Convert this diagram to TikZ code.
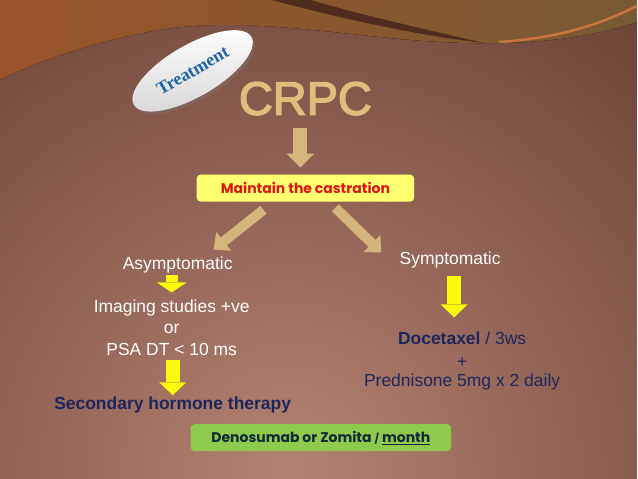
\documentclass[tikz,border=0pt]{standalone}
\usepackage{fontspec}
\setmainfont{Liberation Sans}
\newfontfamily\boxfont{Poppins}
\newfontfamily\tagfont{Liberation Serif}
\newfontfamily\titlefont{Liberation Sans}[FakeBold=3]
\usetikzlibrary{arrows.meta,shapes.geometric,shadows}

\definecolor{bgdark}{RGB}{94,54,42}
\definecolor{bglight}{RGB}{180,130,114}
\definecolor{topor}{RGB}{155,84,42}
\definecolor{topol}{RGB}{120,90,52}
\definecolor{swoosh}{RGB}{80,44,30}
\definecolor{orline}{RGB}{200,118,62}
\definecolor{gold}{RGB}{222,190,124}
\definecolor{tanarr}{RGB}{212,182,124}
\definecolor{yel}{RGB}{250,250,10}
\definecolor{boxyel}{RGB}{255,255,112}
\definecolor{castred}{RGB}{222,22,22}
\definecolor{navy}{RGB}{28,38,92}
\definecolor{boxgreen}{RGB}{142,202,76}
\definecolor{greentxt}{RGB}{16,40,58}
\definecolor{tagblue}{RGB}{30,100,165}

\tikzset{
  plain/.style={anchor=base, text=white, font=\fontsize{17.5}{17.5}\selectfont},
  navytext/.style={anchor=base, text=navy, font=\fontsize{17.5}{17.5}\selectfont},
  tag/.style={ellipse, minimum width=136pt, minimum height=52pt, inner sep=0pt,
    rotate=30, top color=white, middle color=white, bottom color=gray!30,
    drop shadow={opacity=.3}, text=tagblue,
    font=\tagfont\bfseries\fontsize{18}{18}\selectfont},
  yelbox/.style={rounded corners=4pt, fill=boxyel, minimum width=218pt,
    minimum height=27pt, text=castred,
    font=\boxfont\bfseries\fontsize{14}{14}\selectfont},
  grnbox/.style={rounded corners=4pt, fill=boxgreen, minimum width=261pt,
    minimum height=27pt, text=greentxt,
    font=\boxfont\bfseries\fontsize{14}{14}\selectfont},
  tanarrow/.style={draw=tanarr, line width=14pt,
    -{Triangle[width=28pt,length=14pt,line width=0pt]}},
  tanslim/.style={draw=tanarr, line width=10pt,
    -{Triangle[width=24pt,length=13pt,line width=0pt]}},
  yelarrow/.style={draw=yel, line width=14pt,
    -{Triangle[width=27pt,length=13pt,line width=0pt]}},
  yelsmall/.style={draw=yel, line width=12pt,
    -{Triangle[width=30pt,length=10pt,line width=0pt]}}
}

\begin{document}
\begin{tikzpicture}[x=1pt,y=-1pt]
  \fill[bgdark] (0,0) rectangle (638,479);
  \begin{scope}
    \clip (0,0) rectangle (638,479);
    \shade[inner color=bglight, outer color=bgdark] (290,470) circle (700);
  \end{scope}
  \fill[left color=topor, right color=topol] (0,0) -- (638,0) -- (638,22)
    .. controls (560,48) and (470,46) .. (390,38)
    .. controls (310,30) and (230,18) .. (160,30)
    .. controls (100,40) and (40,60) .. (0,80) -- cycle;
  \fill[swoosh] (272,0) .. controls (340,18) and (420,36) .. (485,43)
    .. controls (420,28) and (350,12) .. (312,0) -- cycle;
  \draw[orline, line width=2.5pt] (638,6) .. controls (600,25) and (560,38) .. (500,42);

  \node[tag] (treat) at (193,71) {Treatment};
  \node[anchor=base, text=gold, font=\titlefont\fontsize{47}{47}\selectfont] (crpc) at (306,115) {CRPC};
  \node[yelbox] (maint) at (306,188.5) {Maintain the castration};

  \node[plain] (asym) at (178,270) {Asymptomatic};
  \node[plain] (img1) at (172,313) {Imaging studies +ve};
  \node[plain] (img2) at (172,334) {or};
  \node[plain] (img3) at (172,356) {PSA DT < 10 ms};
  \node[navytext, font=\bfseries\fontsize{17.5}{17.5}\selectfont] (sht) at (173,410) {Secondary hormone therapy};

  \node[plain] (sympt) at (451,265) {Symptomatic};
  \node[navytext] (doce) at (463,345) {\textbf{Docetaxel} / 3ws};
  \node[navytext] (plus) at (463,368) {+};
  \node[navytext] (pred) at (463,387) {Prednisone 5mg x 2 daily};

  \node[grnbox] (deno) at (321.5,438.5) {Denosumab or Zomita {\fontsize{10}{10}\selectfont/} \underline{month}};

  \draw[tanarrow] ([xshift=-5pt,yshift=-13pt]crpc.base) -- ([xshift=-5pt,yshift=7pt]maint.north);
  \draw[tanslim] ([xshift=-42pt,yshift=-8pt]maint.south) -- ([xshift=36pt,yshift=20pt]asym.base);
  \draw[tanslim] ([xshift=30pt,yshift=-6pt]maint.south) -- ([xshift=-69pt,yshift=12pt]sympt.base);
  \draw[yelsmall] ([xshift=-6pt,yshift=-6pt]asym.base) -- ([yshift=20pt]img1.base);
  \draw[yelarrow] ([xshift=1pt,yshift=-5pt]img3.base) -- ([yshift=14pt]sht.base);
  \draw[yelarrow] ([xshift=4pt,yshift=-12pt]sympt.base) -- ([xshift=-8pt,yshift=27pt]doce.base);
\end{tikzpicture}
\end{document}
